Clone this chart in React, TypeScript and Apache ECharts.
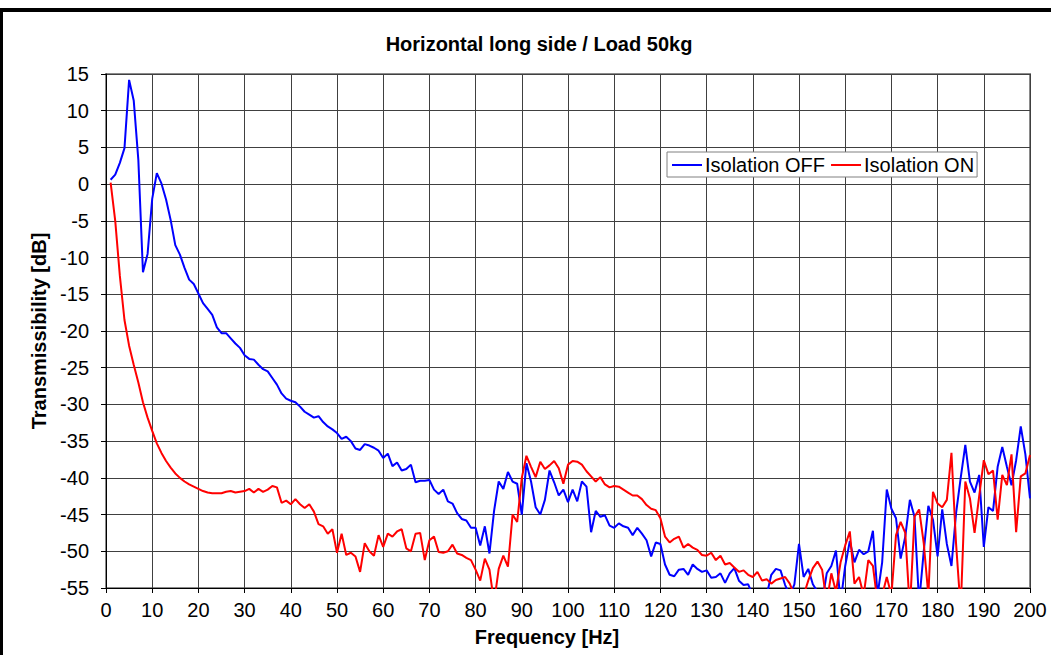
import React, { useEffect, useRef } from "react";
import * as echarts from "echarts";

const titleText = "Horizontal long side / Load 50kg";
const xName = "Frequency [Hz]";
const yName = "Transmissibility [dB]";
const seriesNames = ["Isolation OFF", "Isolation ON"];

// frequencies 1..200 Hz, 1 Hz step
const freqs: number[] = Array.from({ length: 200 }, (_, i) => i + 1);

const isolationOff: number[] = [
  0.6, 1.3, 2.9, 4.9, 14.2, 11.4, 3.3, -12.0, -9.5, -2.0,
  1.5, 0.1, -2.1, -4.9, -8.3, -9.6, -11.4, -13.0, -13.6, -14.9,
  -16.2, -17.0, -17.8, -19.5, -20.3, -20.3, -21.0, -21.7, -22.3, -23.3,
  -23.8, -23.9, -24.6, -25.2, -25.5, -26.4, -27.3, -28.5, -29.2, -29.5,
  -29.7, -30.3, -31.0, -31.4, -31.8, -31.6, -32.4, -33.0, -33.4, -33.9,
  -34.7, -34.4, -35.0, -36.0, -36.2, -35.4, -35.6, -35.9, -36.3, -37.3,
  -36.7, -38.4, -37.9, -39.0, -38.8, -38.2, -40.6, -40.4, -40.4, -40.3,
  -41.6, -42.2, -41.6, -43.2, -43.5, -44.8, -45.6, -45.8, -46.8, -46.8,
  -49.2, -46.6, -50.3, -44.5, -40.5, -41.5, -39.2, -40.5, -40.8, -45.0,
  -38.0, -40.5, -44.0, -45.0, -43.0, -39.0, -40.6, -42.4, -41.6, -43.3,
  -41.6, -43.2, -40.5, -41.2, -47.4, -44.5, -45.3, -45.1, -46.5, -46.8,
  -46.2, -46.6, -46.8, -47.8, -46.8, -47.6, -48.5, -50.7, -48.8, -49.0,
  -51.8, -53.2, -53.4, -52.5, -52.4, -53.2, -51.8, -52.4, -52.8, -52.6,
  -53.6, -53.5, -53.0, -54.3, -53.0, -52.3, -54.0, -54.6, -54.5, -56.0,
  -57.0, -58.0, -56.0, -53.2, -52.4, -52.6, -54.6, -56.0, -54.5, -49.0,
  -53.5, -52.4, -54.5, -55.5, -57.0, -53.0, -52.0, -49.9, -57.0, -52.0,
  -48.6, -51.5, -49.8, -50.4, -50.0, -47.2, -56.0, -51.5, -41.6, -44.2,
  -45.5, -51.0, -48.0, -43.0, -45.3, -57.0, -50.0, -43.8, -45.7, -50.7,
  -44.3, -49.0, -52.0, -44.8, -40.0, -35.5, -40.5, -42.0, -39.6, -49.4,
  -44.0, -44.5, -38.5, -35.8, -38.5, -41.0, -37.6, -33.0, -36.8, -42.8,
];

const isolationOn: number[] = [
  0.2, -5.0, -12.5, -18.5, -22.0, -24.6, -27.0, -29.7, -31.8, -33.6,
  -35.3, -36.6, -37.7, -38.6, -39.4, -40.0, -40.5, -40.9, -41.2, -41.5,
  -41.8, -42.0, -42.1, -42.1, -42.1, -41.9, -41.8, -42.0, -41.9, -41.8,
  -41.5, -42.0, -41.5, -41.9, -41.6, -41.1, -41.3, -43.4, -43.1, -43.6,
  -42.9, -43.6, -44.1, -43.6, -44.6, -46.3, -46.6, -47.6, -47.0, -50.2,
  -47.6, -50.5, -50.2, -50.7, -52.8, -48.9, -50.0, -50.6, -47.8, -49.4,
  -47.6, -48.0, -47.3, -47.0, -49.6, -50.0, -47.6, -47.5, -51.2, -48.5,
  -48.0, -50.1, -50.2, -50.0, -49.1, -50.3, -50.5, -50.9, -51.2, -52.5,
  -54.0, -51.0, -52.5, -57.0, -52.4, -50.6, -52.1, -45.0, -46.0, -40.0,
  -37.0, -38.5, -39.9, -37.8, -38.8, -38.3, -37.7, -38.7, -40.8, -38.2,
  -37.7, -37.8, -38.2, -39.1, -39.8, -40.5, -39.9, -40.9, -41.3, -41.1,
  -41.2, -41.6, -42.0, -42.4, -42.4, -42.9, -43.7, -44.2, -44.4, -45.5,
  -48.0, -48.8, -48.3, -48.0, -49.5, -49.0, -49.5, -49.8, -50.5, -50.6,
  -50.2, -51.2, -50.6, -51.8, -51.6, -52.2, -52.8, -52.6, -53.2, -53.5,
  -52.8, -54.0, -53.8, -54.4, -53.9, -53.7, -53.5, -54.4, -56.0, -57.0,
  -56.0, -54.0, -52.3, -51.4, -52.5, -57.0, -53.0, -55.5, -51.5, -49.2,
  -47.3, -54.4, -53.5, -56.0, -51.2, -52.0, -57.0, -56.0, -53.5, -56.0,
  -47.8, -46.0, -47.5, -58.0, -45.3, -44.3, -48.9, -56.0, -41.9, -43.5,
  -44.0, -43.0, -36.6, -49.0, -58.0, -40.5, -42.8, -47.5, -42.5, -37.6,
  -39.5, -39.0, -45.7, -39.6, -41.0, -36.8, -47.4, -39.8, -39.4, -36.9,
];

const FONT = "'Liberation Sans', Arial, sans-serif";

export default function App() {
  const ref = useRef<HTMLDivElement>(null);

  useEffect(() => {
    if (!ref.current) return;
    const chart = echarts.init(ref.current, undefined, { renderer: "svg" });
    const toPairs = (vals: number[]) => freqs.map((f, i) => [f, vals[i]]);
    chart.setOption({
      animation: false,
      backgroundColor: "#ffffff",
      textStyle: { fontFamily: FONT },
      title: {
        text: titleText,
        left: 534,
        textAlign: "center",
        top: 29,
        textStyle: { fontSize: 20, fontWeight: "bold", color: "#000", fontFamily: FONT },
      },
      legend: {
        left: 667,
        top: 152,
        orient: "horizontal",
        icon: "rect",
        itemWidth: 30,
        itemHeight: 2,
        itemGap: 6,
        padding: [3, 3, 2, 5],
        backgroundColor: "#fff",
        borderColor: "#808080",
        borderWidth: 1,
        borderRadius: 0,
        textStyle: { fontSize: 20, color: "#000", fontFamily: FONT, padding: [0, 0, 0, -2] },
        data: seriesNames,
      },
      grid: {
        left: 106,
        right: 21,
        top: 74,
        bottom: 67,
        show: true,
        borderColor: "#8a8a8a",
        borderWidth: 2,
      },
      xAxis: {
        type: "value",
        min: 0,
        max: 200,
        interval: 10,
        axisLine: { show: true, onZero: false, lineStyle: { color: "#000", width: 1 } },
        axisTick: { show: true, length: 5, lineStyle: { color: "#000" } },
        axisLabel: { fontSize: 20, color: "#000", margin: 12, fontFamily: FONT },
        splitLine: { show: true, lineStyle: { color: "#404040", width: 1 } },
      },
      yAxis: {
        type: "value",
        min: -55,
        max: 15,
        interval: 5,
        axisLine: { show: true, onZero: false, lineStyle: { color: "#000", width: 1 } },
        axisTick: { show: true, length: 5, lineStyle: { color: "#000" } },
        axisLabel: { fontSize: 20, color: "#000", margin: 17, fontFamily: FONT },
        splitLine: { show: true, lineStyle: { color: "#404040", width: 1 } },
      },
      graphic: [
        { type: "rect", shape: { x: 0, y: 8, width: 1051, height: 4 }, style: { fill: "#000" }, silent: true },
        { type: "rect", shape: { x: 0, y: 8, width: 3, height: 647 }, style: { fill: "#000" }, silent: true },
        {
          type: "text",
          x: 547,
          y: 637,
          style: { text: xName, fontSize: 20, fontWeight: "bold", fill: "#000", align: "center", verticalAlign: "middle", fontFamily: FONT },
        },
        {
          type: "text",
          x: 39,
          y: 331,
          rotation: Math.PI / 2,
          style: { text: yName, fontSize: 20, fontWeight: "bold", fill: "#000", align: "center", verticalAlign: "middle", fontFamily: FONT },
        },
      ],
      series: [
        {
          name: seriesNames[0],
          type: "line",
          data: toPairs(isolationOff),
          showSymbol: false,
          symbol: "none",
          clip: true,
          color: "#0000ff",
          lineStyle: { color: "#0000ff", width: 2 },
        },
        {
          name: seriesNames[1],
          type: "line",
          data: toPairs(isolationOn),
          showSymbol: false,
          symbol: "none",
          clip: true,
          color: "#ff0000",
          lineStyle: { color: "#ff0000", width: 2 },
        },
      ],
    });
    return () => chart.dispose();
  }, []);

  return (
    <div
      ref={ref}
      style={{ position: "fixed", left: 0, top: 0, width: 1051, height: 655, background: "#fff" }}
    />
  );
}
